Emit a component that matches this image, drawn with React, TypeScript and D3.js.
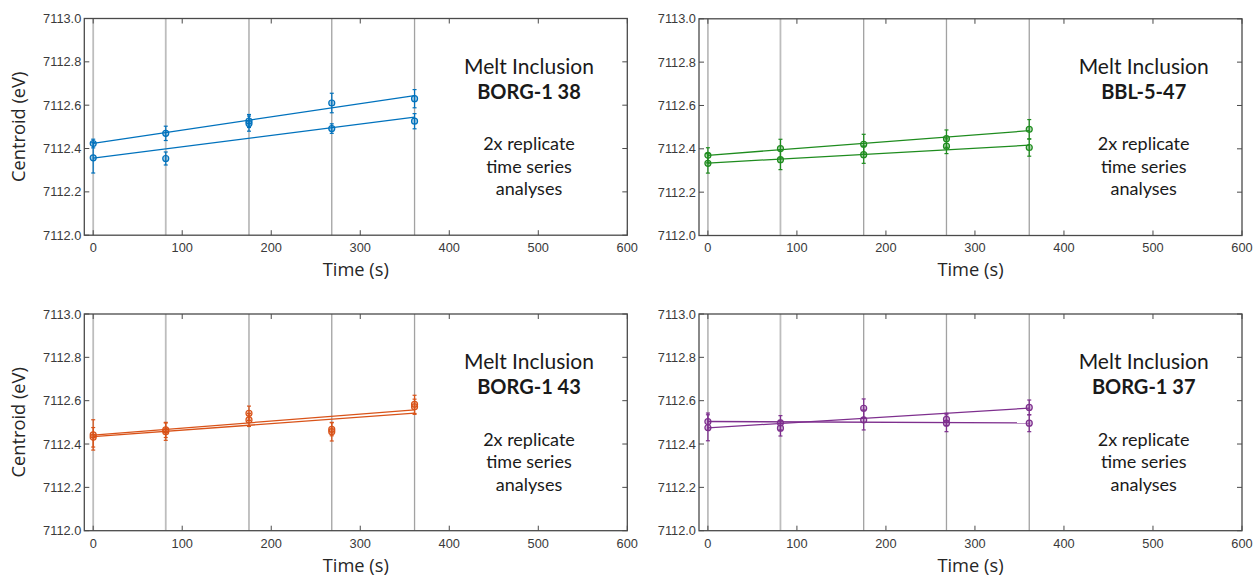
import React from "react";
import * as d3 from "d3";

// Acquisition times (s) shared by every replicate
const times = [0, 81.5, 175, 268, 361];

// Axis ticks
const xTicks = [0, 100, 200, 300, 400, 500, 600];
const yTicks = [7112.0, 7112.2, 7112.4, 7112.6, 7112.8, 7113.0];

// BORG-1 38
const borg138A = [7112.423, 7112.47, 7112.527, 7112.61, 7112.63];
const borg138AErr = [0.02, 0.033, 0.03, 0.045, 0.042];
const borg138B = [7112.357, 7112.354, 7112.515, 7112.492, 7112.526];
const borg138BErr = [0.07, 0.03, 0.035, 0.022, 0.035];

// BBL-5-47
const bbl547A = [7112.37, 7112.401, 7112.421, 7112.447, 7112.49];
const bbl547AErr = [0.035, 0.043, 0.046, 0.04, 0.045];
const bbl547B = [7112.333, 7112.35, 7112.373, 7112.412, 7112.406];
const bbl547BErr = [0.045, 0.046, 0.04, 0.034, 0.04];

// BORG-1 43
const borg143A = [7112.442, 7112.457, 7112.542, 7112.468, 7112.583];
const borg143AErr = [0.07, 0.04, 0.033, 0.03, 0.042];
const borg143B = [7112.431, 7112.465, 7112.511, 7112.457, 7112.572];
const borg143BErr = [0.045, 0.035, 0.03, 0.043, 0.035];

// BORG-1 37
const borg137A = [7112.475, 7112.473, 7112.565, 7112.514, 7112.569];
const borg137AErr = [0.06, 0.036, 0.043, 0.028, 0.034];
const borg137B = [7112.503, 7112.498, 7112.511, 7112.496, 7112.496];
const borg137BErr = [0.04, 0.033, 0.046, 0.039, 0.039];

const W = 543;
const H = 216.7;

type Series = { v: number[]; e: number[] };

// Ordinary least-squares line through one replicate
function linearFit(xs: number[], ys: number[]) {
  const mx = d3.mean(xs) as number;
  const my = d3.mean(ys) as number;
  let sxy = 0;
  let sxx = 0;
  xs.forEach((x, i) => {
    sxy += (x - mx) * (ys[i] - my);
    sxx += (x - mx) * (x - mx);
  });
  const slope = sxy / sxx;
  return { slope, intercept: my - slope * mx };
}

const labelFont = "'Liberation Sans', Arial, sans-serif";
const titleFont = "'Open Sans', sans-serif";
const textFont = "Lato, 'Open Sans', sans-serif";

function Panel(props: {
  left: number;
  top: number;
  color: string;
  name: string;
  series: Series[];
  yTitle: boolean;
}) {
  const { left, top, color, name, series, yTitle } = props;
  const x = d3.scaleLinear().domain([-10, 600]).range([0, W]);
  const y = d3.scaleLinear().domain([7112, 7113]).range([H, 0]);
  const tickLen = 5;
  return (
    <g transform={`translate(${left},${top})`}>
      {times.map((t, i) => (
        <line key={"v" + i} x1={x(t)} x2={x(t)} y1={0} y2={H} stroke={i < 2 ? "#bdbdbd" : "#a2a2a2"} strokeWidth={i < 2 ? 1.8 : 1.3} />
      ))}
      {series.map((s, si) => {
        const fit = linearFit(times, s.v);
        const t0 = times[0];
        const t1 = times[times.length - 1];
        return (
          <g key={"s" + si}>
            <line
              x1={x(t0)}
              x2={x(t1)}
              y1={y(fit.intercept + fit.slope * t0)}
              y2={y(fit.intercept + fit.slope * t1)}
              stroke={color}
              strokeWidth={1.3}
            />
            {s.v.map((v, i) => (
              <g key={i}>
                <line x1={x(times[i])} x2={x(times[i])} y1={y(v - s.e[i])} y2={y(v + s.e[i])} stroke={color} strokeWidth={1.2} />
                <line x1={x(times[i]) - 2} x2={x(times[i]) + 2} y1={y(v - s.e[i])} y2={y(v - s.e[i])} stroke={color} strokeWidth={1.2} />
                <line x1={x(times[i]) - 2} x2={x(times[i]) + 2} y1={y(v + s.e[i])} y2={y(v + s.e[i])} stroke={color} strokeWidth={1.2} />
                <circle cx={x(times[i])} cy={y(v)} r={3} fill={color} fillOpacity={0.35} stroke={color} strokeWidth={1.2} />
              </g>
            ))}
          </g>
        );
      })}
      {/* inward ticks on all four sides */}
      {xTicks.map((t) => (
        <g key={"xt" + t}>
          <line x1={x(t)} x2={x(t)} y1={H} y2={H - tickLen} stroke="#4a4a4a" strokeWidth={1} />
          <line x1={x(t)} x2={x(t)} y1={0} y2={tickLen} stroke="#4a4a4a" strokeWidth={1} />
          <text x={x(t)} y={H + 17} textAnchor="middle" fontFamily={labelFont} fontSize={12.8} fill="#3a3a3a">
            {t}
          </text>
        </g>
      ))}
      {yTicks.map((t) => (
        <g key={"yt" + t}>
          <line x1={0} x2={tickLen} y1={y(t)} y2={y(t)} stroke="#4a4a4a" strokeWidth={1} />
          <line x1={W} x2={W - tickLen} y1={y(t)} y2={y(t)} stroke="#4a4a4a" strokeWidth={1} />
          <text x={-3} y={y(t) + 4.5} textAnchor="end" fontFamily={labelFont} fontSize={12.8} fill="#3a3a3a">
            {d3.format(".1f")(t)}
          </text>
        </g>
      ))}
      <rect x={0} y={0} width={W} height={H} fill="none" stroke="#4a4a4a" strokeWidth={1.3} />
      <text x={W / 2} y={H + 41} textAnchor="middle" fontFamily={titleFont} fontSize={18.3} fill="#262626">
        Time (s)
      </text>
      {yTitle && (
        <text
          transform={`translate(${-59},${H / 2}) rotate(-90)`}
          textAnchor="middle"
          fontFamily={titleFont}
          fontSize={18.3}
          fill="#262626"
        >
          Centroid (eV)
        </text>
      )}
      <g fontFamily={textFont} fill="#1a1a1a" textAnchor="middle">
        <text x={444.7} y={55} fontSize={21}>
          Melt Inclusion
        </text>
        <text x={444.7} y={80} fontSize={20} fontWeight="bold">
          {name}
        </text>
        <text x={444.7} y={131.5} fontSize={18}>
          2x replicate
        </text>
        <text x={444.7} y={154} fontSize={18}>
          time series
        </text>
        <text x={444.7} y={176.5} fontSize={18}>
          analyses
        </text>
      </g>
    </g>
  );
}

export default function App() {
  return (
    <svg
      width={1255}
      height={578}
      style={{ position: "absolute", left: 0, top: 0, background: "#fff" }}
    >
      <Panel
        left={84.3}
        top={18.5}
        color="#0072BD"
        name="BORG-1 38"
        yTitle
        series={[
          { v: borg138A, e: borg138AErr },
          { v: borg138B, e: borg138BErr },
        ]}
      />
      <Panel
        left={699}
        top={18.8}
        color="#1E8C1E"
        name="BBL-5-47"
        yTitle={false}
        series={[
          { v: bbl547A, e: bbl547AErr },
          { v: bbl547B, e: bbl547BErr },
        ]}
      />
      <Panel
        left={84.3}
        top={314}
        color="#D95319"
        name="BORG-1 43"
        yTitle
        series={[
          { v: borg143A, e: borg143AErr },
          { v: borg143B, e: borg143BErr },
        ]}
      />
      <Panel
        left={699}
        top={314}
        color="#7E2F8E"
        name="BORG-1 37"
        yTitle={false}
        series={[
          { v: borg137A, e: borg137AErr },
          { v: borg137B, e: borg137BErr },
        ]}
      />
    </svg>
  );
}
